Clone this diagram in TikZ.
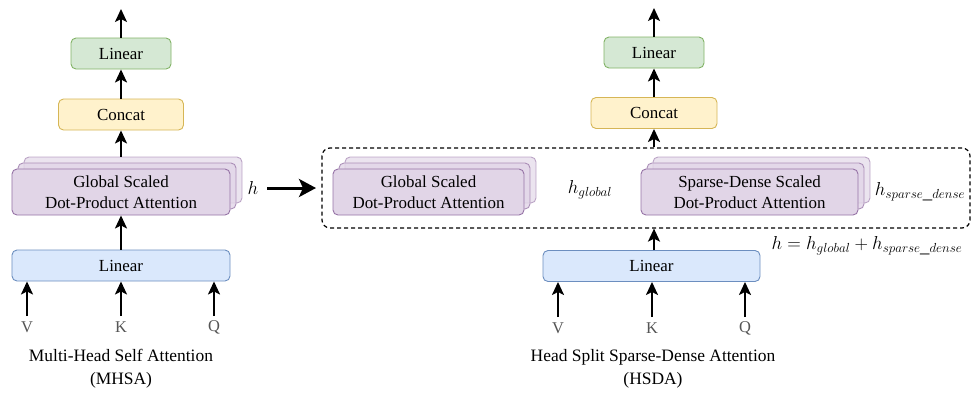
\documentclass[tikz,border=0pt]{standalone}
\usepackage{fix-cm}
\usepackage{fontspec}
\setmainfont{Liberation Serif}
\usetikzlibrary{arrows.meta}
\definecolor{gfill}{HTML}{D5E8D4}\definecolor{gdraw}{HTML}{82B366}
\definecolor{yfill}{HTML}{FFF2CC}\definecolor{ydraw}{HTML}{D6B656}
\definecolor{pfill}{HTML}{E1D5E7}\definecolor{pdraw}{HTML}{9673A6}
\definecolor{bfill}{HTML}{DAE8FC}\definecolor{bdraw}{HTML}{6C8EBF}
\definecolor{lbl}{HTML}{555555}
\tikzset{
  box/.style={rectangle, rounded corners=5bp, line width=0.9bp, inner sep=0pt, align=center,
    font=\fontsize{17}{21}\selectfont},
  greenbox/.style={box, fill=gfill, draw=gdraw},
  yellowbox/.style={box, fill=yfill, draw=ydraw},
  bluebox/.style={box, fill=bfill, draw=bdraw},
  purplebox/.style={box, fill=pfill, draw=pdraw},
  purpleback/.style={box, fill=pfill, draw=pdraw, fill opacity=0.8, draw opacity=0.75},
  purpleback2/.style={box, fill=pfill, draw=pdraw, fill opacity=0.65, draw opacity=0.6},
  arr/.style={line width=2bp, -{Stealth[length=13bp,width=12bp,inset=3bp]}},
  bigarr/.style={line width=3bp, -{Stealth[length=17bp,width=18bp,inset=4bp]}},
  inlbl/.style={text=lbl, font=\fontsize{16.5}{19}\selectfont, inner sep=0pt},
  caption/.style={align=center, font=\fontsize{17.5}{23}\selectfont, inner sep=0pt},
  mathlbl/.style={font=\fontsize{18.8}{21}\selectfont, inner sep=0pt},
}
\begin{document}
\begin{tikzpicture}[x=1bp,y=-1bp]
\useasboundingbox (0,0) rectangle (976,392);

% ===== Left: MHSA =====
\node[greenbox, minimum width=100bp, minimum height=31bp] (lin1) at (121,53.5) {Linear};
\node[yellowbox, minimum width=125bp, minimum height=31bp] (cat1) at (121,114.5) {Concat};
\node[purpleback2, minimum width=218bp, minimum height=46bp] (att1c) at (133,180) {};
\node[purpleback, minimum width=218bp, minimum height=46bp] (att1b) at (127,186) {};
\node[purplebox, minimum width=218bp, minimum height=46bp] (att1) at (121,192) {Global Scaled\\Dot-Product Attention};
\node[bluebox, minimum width=218bp, minimum height=31bp] (linb1) at (121,265.5) {Linear};
\coordinate (out1) at (121,9);
\node[inlbl] (v1) at (27,327) {V};
\node[inlbl] (k1) at (121,327) {K};
\node[inlbl] (q1) at (214,327) {Q};
\coordinate (v1t) at (27,316);
\coordinate (k1t) at (121,316);
\coordinate (q1t) at (214,316);
\node[mathlbl] (h1) at (253,188) {$h$};
\node[caption] (cap1) at (121,369) {Multi-Head Self Attention\\(MHSA)};

\draw[arr] (lin1.north) -- (out1);
\draw[arr] (cat1.north) -- (lin1.south);
\draw[arr] (att1c.north -| cat1.south) -- (cat1.south);
\draw[arr] (linb1.north) -- (att1.south);
\draw[arr] (v1t) -- (v1t |- linb1.south);
\draw[arr] (k1t) -- (k1t |- linb1.south);
\draw[arr] (q1t) -- (q1t |- linb1.south);

% ===== big arrow =====
\coordinate (bigs) at (267,188);
\coordinate (bige) at (316,188);
\draw[bigarr] (bigs) -- (bige);

% ===== Right: HSDA =====
\node[greenbox, minimum width=100bp, minimum height=31bp] (lin2) at (654,52.5) {Linear};
\node[yellowbox, minimum width=126bp, minimum height=31bp] (cat2) at (654,113) {Concat};
\node[draw, dashed, dash pattern=on 4bp off 3bp, rounded corners=8bp, line width=1.2bp,
      minimum width=648bp, minimum height=80bp, inner sep=0pt] (dash) at (646,188) {};

\node[purpleback2, minimum width=191bp, minimum height=46bp] (att2c) at (440.5,180) {};
\node[purpleback, minimum width=191bp, minimum height=46bp] (att2b) at (434.5,186) {};
\node[purplebox, minimum width=191bp, minimum height=46bp] (att2) at (428.5,192) {Global Scaled\\Dot-Product Attention};
\node[mathlbl] (hg) at (590,190) {$h_{global}$};

\node[purpleback2, minimum width=217bp, minimum height=46bp] (att3c) at (761.5,180) {};
\node[purpleback, minimum width=217bp, minimum height=46bp] (att3b) at (755.5,186) {};
\node[purplebox, minimum width=217bp, minimum height=46bp] (att3) at (749.5,192) {Sparse-Dense Scaled\\Dot-Product Attention};
\node[mathlbl] (hsd) at (920,192) {$h_{sparse\_dense}$};

\node[bluebox, minimum width=217bp, minimum height=31bp] (linb2) at (651.5,266) {Linear};
\node[mathlbl] (form) at (867,246) {$h = h_{global} + h_{sparse\_dense}$};
\coordinate (out2) at (654,8);
\node[inlbl] (v2) at (558,328) {V};
\node[inlbl] (k2) at (652,328) {K};
\node[inlbl] (q2) at (745,328) {Q};
\coordinate (v2t) at (558,317);
\coordinate (k2t) at (652,317);
\coordinate (q2t) at (745,317);
\node[caption] (cap2) at (653,369) {Head Split Sparse-Dense Attention\\(HSDA)};

\draw[arr] (lin2.north) -- (out2);
\draw[arr] (cat2.north) -- (lin2.south);
\draw[arr] (dash.north -| cat2.south) -- (cat2.south);
\draw[arr] (linb2.north -| cat2.south) -- (dash.south -| cat2.south);
\draw[arr] (v2t) -- (v2t |- linb2.south);
\draw[arr] (k2t) -- (k2t |- linb2.south);
\draw[arr] (q2t) -- (q2t |- linb2.south);
\end{tikzpicture}
\end{document}
